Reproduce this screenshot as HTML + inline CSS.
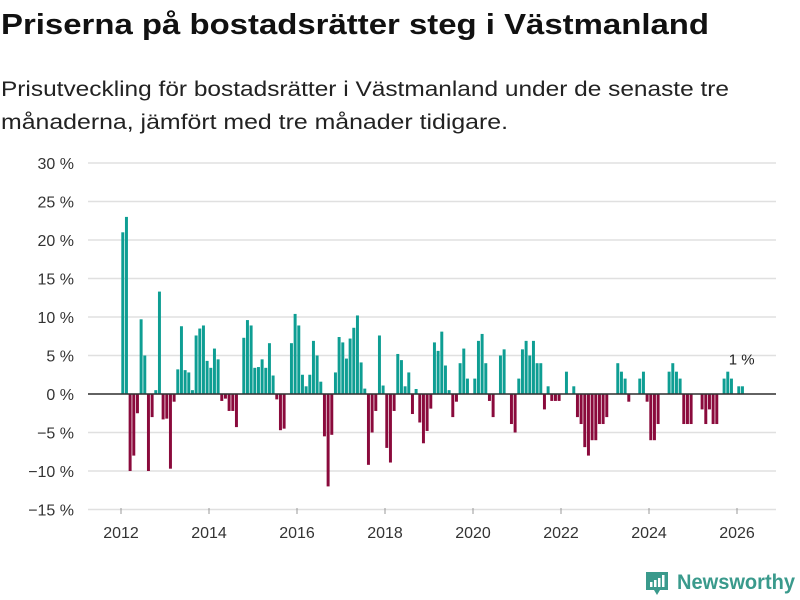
<!DOCTYPE html>
<html><head><meta charset="utf-8">
<style>
html,body{margin:0;padding:0;background:#fff;}
svg{display:block;font-family:"Liberation Sans",sans-serif;}
</style></head>
<body>
<svg id="chart" width="800" height="600" viewBox="0 0 800 600">
<text x="1" y="34" font-size="29" font-weight="bold" fill="#111" textLength="708" lengthAdjust="spacingAndGlyphs">Priserna på bostadsrätter steg i Västmanland</text>
<text x="1" y="96" font-size="21" fill="#222" textLength="728" lengthAdjust="spacingAndGlyphs">Prisutveckling för bostadsrätter i Västmanland under de senaste tre</text>
<text x="1" y="129" font-size="21" fill="#222" textLength="507" lengthAdjust="spacingAndGlyphs">månaderna, jämfört med tre månader tidigare.</text>
<g id="grid"></g>
<g id="yaxis"></g>
<g id="xaxis"></g>
<g id="bars"></g>
<line x1="88" x2="776" y1="394" y2="394" stroke="#333" stroke-width="1.5"/>
<g id="annot"></g>
<g>
<path d="M646 572 h22 v18 h-8 l-3 5 l-3 -5 h-8 z" fill="#3a9a8c"/>
<rect x="650" y="582" width="2.5" height="5" fill="#fff"/>
<rect x="654" y="580" width="2.5" height="7" fill="#fff"/>
<rect x="658" y="578" width="2.5" height="9" fill="#fff"/>
<rect x="662" y="575" width="2.5" height="12" fill="#fff"/>
<text x="677" y="589" font-size="21" font-weight="bold" fill="#3a9a8c" textLength="118" lengthAdjust="spacingAndGlyphs">Newsworthy</text>
</g>
</svg>
<script>
const yTicks = [-15,-10,-5,0,5,10,15,20,25,30];
const xTickYears = [2012,2014,2016,2018,2020,2022,2024,2026];
const startYear = 2012;
const values = [
21,23,-10,-8,-2.5,9.7,5,-10,-3,0.5,13.3,-3.3,
-3.2,-9.7,-1,3.2,8.8,3.1,2.8,0.5,7.6,8.5,8.9,4.3,
3.4,5.9,4.5,-0.9,-0.6,-2.2,-2.2,-4.3,0,7.3,9.6,8.9,
3.4,3.5,4.5,3.4,6.6,2.4,-0.7,-4.7,-4.5,0,6.6,10.4,
8.9,2.5,1,2.5,6.9,5,1.6,-5.5,-12,-5.3,2.8,7.4,
6.7,4.6,7.2,8.6,10.2,4.1,0.7,-9.2,-5,-2.2,7.6,1.1,
-7,-8.9,-2.2,5.2,4.4,1,2.8,-2.6,0.65,-3.7,-6.4,-4.8,
-1.9,6.7,5.6,8.1,3.7,0.5,-3,-1,4,5.9,2,0,
2,6.9,7.8,4,-0.9,-3,0,5,5.8,0,-3.9,-5,
2,5.8,6.9,5,6.9,4,4,-2,1,-0.9,-0.9,-0.9,
0,2.9,0,1,-3,-3.9,-6.9,-8,-6,-6,-3.9,-3.9,
-3,0,0,4,2.9,2,-1,0,0,2,2.9,-1,
-6,-6,-3.9,0,0,2.9,4,2.9,2,-3.9,-3.9,-3.9,
0,0,-2,-3.9,-2,-3.9,-3.9,0,2,2.9,2,0,
1,1
];
const lastLabel = "1 %";

const NS = "http://www.w3.org/2000/svg";
const y0 = 394, pxPer = 7.7;
function yScale(v){ return y0 - v*pxPer; }
const x2012 = 121, pxYear = 44;
function xScale(monthIndex){ return x2012 + monthIndex*pxYear/12; }
function mk(tag, attrs, parent){ const e=document.createElementNS(NS,tag); for(const k in attrs) e.setAttribute(k,attrs[k]); parent.appendChild(e); return e; }

const grid=document.getElementById('grid'), ya=document.getElementById('yaxis'), xa=document.getElementById('xaxis'), bars=document.getElementById('bars'), annot=document.getElementById('annot');
yTicks.forEach(t=>{
  const l=mk('line',{x1:88,x2:776,y1:yScale(t),y2:yScale(t),stroke:'#e0e0e0','stroke-width':1.5},grid);
  
  
  const tx=mk('text',{x:74,y:yScale(t)+6,'font-size':16,fill:'#333','text-anchor':'end'},ya);
  tx.textContent=(t<0?'\u2212'+(-t):t)+' %';
  
  
});
xTickYears.forEach(yr=>{
  const x=xScale((yr-startYear)*12);
  const tk=mk('line',{x1:x,x2:x,y1:508,y2:514,stroke:'#999','stroke-width':1},xa);
  
  
  const tx=mk('text',{x:x,y:538,'font-size':16,fill:'#333','text-anchor':'middle'},xa);
  tx.textContent=yr;
  
  
});
const bw=pxYear/12-0.7;
values.forEach((v,i)=>{
  if(v===0) return;
  const x=xScale(i)+0.3;
  const top=Math.min(yScale(v),y0), h=Math.abs(yScale(v)-y0);
  const r=mk('rect',{x:x,y:top,width:bw,height:h,fill:v>0?'#0e9e93':'#8a0a3c'},bars);
  
  
});
const li=values.length-1;
const at=mk('text',{x:xScale(li)+1,y:yScale(values[li])-22,'font-size':15,fill:'#222','text-anchor':'middle'},annot);
at.textContent=lastLabel;


</script>
</body></html>
